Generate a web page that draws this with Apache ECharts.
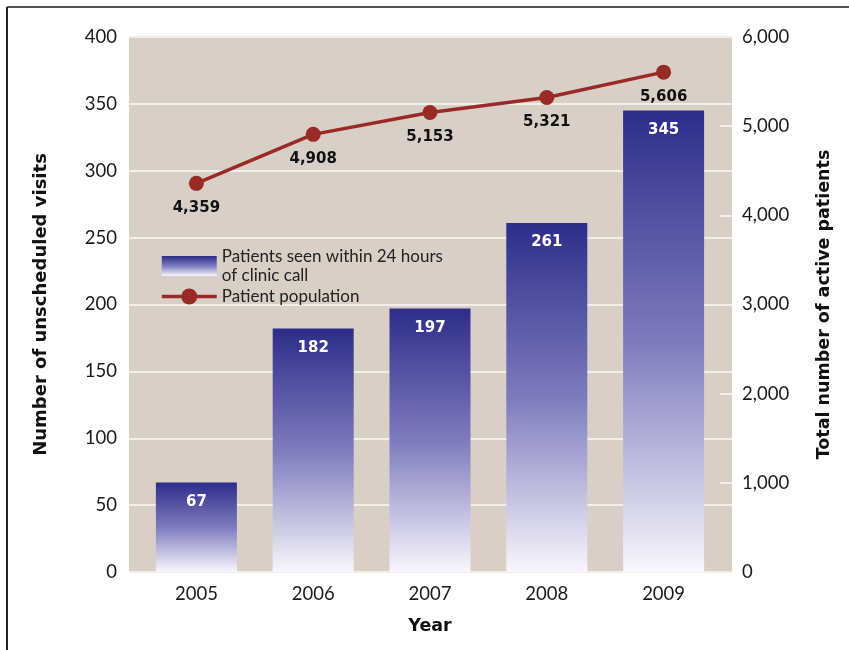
<!DOCTYPE html>
<html>
<head>
<meta charset="utf-8">
<script src="https://cdn.jsdelivr.net/npm/echarts@6/dist/echarts.min.js"></script>
<style>
  html, body { margin: 0; padding: 0; background: #fff; }
  #main { width: 849px; height: 650px; }
</style>
</head>
<body>
<div id="main"></div>
<script>
// data
var years = ['2005', '2006', '2007', '2008', '2009'];
var visits = [67, 182, 197, 261, 345];
var patients = [4359, 4908, 5153, 5321, 5606];
var visitsName = 'Patients seen within 24 hours\nof clinic call';
var patientsName = 'Patient population';

var FONT = 'Lato';
var HEAVY = 'DejaVu Sans';
var chart = echarts.init(document.getElementById('main'), null, { renderer: 'canvas' });

function fmt(v) {
  return echarts.format.addCommas(v);
}

chart.setOption({
  backgroundColor: '#fff',
  textStyle: { fontFamily: FONT },
  graphic: [
    // figure frame (top and left edge)
    { type: 'line', shape: { x1: 7, y1: 7, x2: 849, y2: 7 }, style: { stroke: '#555', lineWidth: 2 } },
    { type: 'line', shape: { x1: 7, y1: 7, x2: 7, y2: 650 }, style: { stroke: '#222', lineWidth: 2 } }
  ],
  legend: {
    orient: 'vertical',
    left: 155,
    top: 242,
    itemWidth: 55,
    itemHeight: 20,
    itemGap: 2,
    lineStyle: { width: 3.5 },
    textStyle: { fontSize: 17, color: '#222', lineHeight: 19, fontFamily: FONT },
    data: [{ name: visitsName, icon: 'rect' }, { name: patientsName }]
  },
  // grid 0 carries the background, gridlines and axis labels,
  // grid 1 is a little narrower and carries the bars and the line
  grid: [
    { left: 129, right: 117, top: 37, bottom: 78, show: true, backgroundColor: '#d8d0c7', borderWidth: 0 },
    { left: 138, right: 127, top: 37, bottom: 78 }
  ],
  xAxis: [
    { gridIndex: 0, type: 'category', data: years, show: false },
    {
      gridIndex: 1,
      type: 'category',
      data: years,
      axisLine: { show: false },
      axisTick: { show: false },
      axisLabel: { fontSize: 18.5, color: '#1a1a1a', margin: 13, fontFamily: FONT },
      name: 'Year',
      nameLocation: 'middle',
      nameGap: 45,
      nameTextStyle: { fontSize: 17.5, fontWeight: 'bold', color: '#111', fontFamily: HEAVY }
    }
  ],
  yAxis: [
    {
      gridIndex: 0,
      type: 'value',
      position: 'left',
      min: 0, max: 400, interval: 50,
      axisLine: { show: false },
      axisTick: { show: false },
      axisLabel: { fontSize: 18.5, color: '#1a1a1a', margin: 12, fontFamily: FONT },
      splitLine: { lineStyle: { color: '#f3eee9', width: 2 } },
      name: 'Number of unscheduled visits',
      nameLocation: 'middle',
      nameGap: 79,
      nameTextStyle: { fontSize: 18, fontWeight: 'bold', color: '#111', fontFamily: HEAVY }
    },
    {
      gridIndex: 0,
      type: 'value',
      position: 'right',
      min: 0, max: 6000, interval: 1000,
      axisLine: { show: false },
      axisTick: { show: true, inside: true, length: 12, lineStyle: { color: '#f3eee9', width: 2 } },
      axisLabel: { fontSize: 18.5, color: '#1a1a1a', margin: 10, fontFamily: FONT, formatter: fmt },
      splitLine: { show: false },
      name: 'Total number of active patients',
      nameLocation: 'middle',
      nameGap: 83,
      nameTextStyle: { fontSize: 17.5, fontWeight: 'bold', color: '#111', fontFamily: HEAVY }
    },
    { gridIndex: 1, type: 'value', min: 0, max: 400, show: false },
    { gridIndex: 1, type: 'value', min: 0, max: 6000, show: false }
  ],
  series: [
    {
      name: visitsName,
      type: 'bar',
      xAxisIndex: 1,
      yAxisIndex: 2,
      barWidth: 81,
      data: visits,
      itemStyle: {
        color: new echarts.graphic.LinearGradient(0, 0, 0, 1, [
          { offset: 0, color: '#2d2d8a' },
          { offset: 0.5, color: '#7e7bbd' },
          { offset: 1, color: '#f8f7fc' }
        ])
      },
      label: {
        show: true,
        position: 'insideTop',
        distance: 12,
        color: '#fff',
        fontSize: 15,
        fontWeight: 'bold',
        fontFamily: HEAVY
      }
    },
    {
      name: patientsName,
      type: 'line',
      xAxisIndex: 1,
      yAxisIndex: 3,
      data: patients,
      symbol: 'circle',
      symbolSize: 15,
      lineStyle: { color: '#9a2a26', width: 3.5 },
      itemStyle: { color: '#9a2a26' },
      label: {
        show: true,
        position: 'bottom',
        distance: 10,
        color: '#111',
        fontSize: 15,
        fontWeight: 'bold',
        fontFamily: HEAVY,
        formatter: function (p) { return fmt(p.value); }
      },
      z: 5
    }
  ]
});
</script>
</body>
</html>
